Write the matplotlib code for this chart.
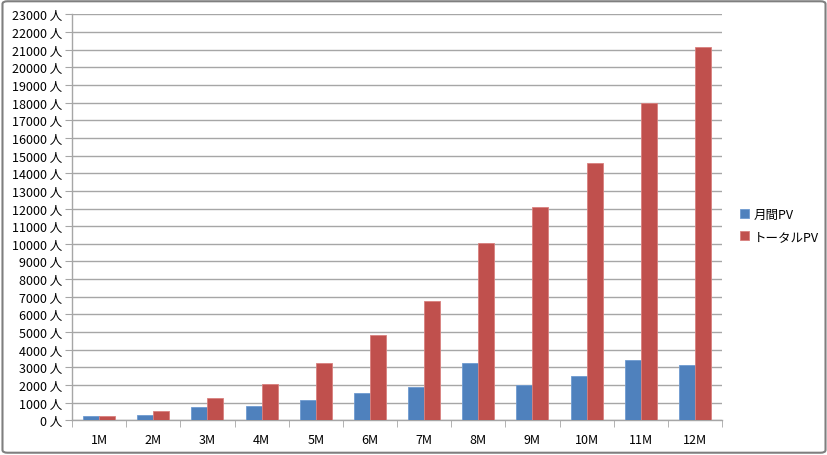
import matplotlib.pyplot as plt
import numpy as np
from matplotlib.patches import FancyBboxPatch

plt.rcParams['font.family'] = ['Noto Sans CJK JP', 'DejaVu Sans']

months = ['1M', '2M', '3M', '4M', '5M', '6M', '7M', '8M', '9M', '10M', '11M', '12M']
monthly_pv = [250, 300, 755, 810, 1170, 1545, 1920, 3270, 1985, 2500, 3400, 3120]
total_pv = [250, 510, 1280, 2070, 3280, 4840, 6780, 10060, 12080, 14600, 18000, 21170]

blue = '#4F81BD'
red = '#C0504D'
grid_col = '#A6A6A6'

fig = plt.figure(figsize=(8.28, 4.56), dpi=100)
ax = fig.add_axes([0.087, 0.0757, 0.785, 0.891])

x = np.arange(len(months))
w = 0.295
ax.bar(x - w / 2, monthly_pv, w, color=blue, edgecolor='#6F9BD1', linewidth=0.6, label='月間PV', zorder=3)
ax.bar(x + w / 2, total_pv, w, color=red, edgecolor='#D9807E', linewidth=0.6, label='トータルPV', zorder=3)

ax.set_xlim(-0.5, len(months) - 0.5)
ax.set_ylim(0, 23000)
ax.set_yticks(range(0, 23001, 1000))
ax.set_yticklabels([f'{v} 人' for v in range(0, 23001, 1000)], fontsize=9)
ax.yaxis.grid(True, color=grid_col, linewidth=1, zorder=0)

ax.set_xticks(x)
ax.set_xticklabels(months, fontsize=9)
ax.set_xticks(np.arange(-0.5, len(months)), minor=True)
ax.tick_params(axis='x', which='major', length=0, pad=9)
ax.tick_params(axis='x', which='minor', length=5, color=grid_col)
ax.tick_params(axis='y', length=5, color=grid_col, pad=2)

for s in ['top', 'right']:
    ax.spines[s].set_visible(False)
for s in ['left', 'bottom']:
    ax.spines[s].set_color(grid_col)
    ax.spines[s].set_linewidth(1)

ax.legend(loc='center left', bbox_to_anchor=(1.01, 0.48), frameon=False, fontsize=9,
          handlelength=0.7, handleheight=0.7, handletextpad=0.4, labelspacing=0.75)

frame = FancyBboxPatch((0.003, 0.005), 0.994, 0.99, boxstyle='round,pad=0,rounding_size=0.006',
                       transform=fig.transFigure, facecolor='none', edgecolor='#7F7F7F',
                       linewidth=1.5, zorder=10)
fig.patches.append(frame)

fig.savefig('out.png', dpi=100)
